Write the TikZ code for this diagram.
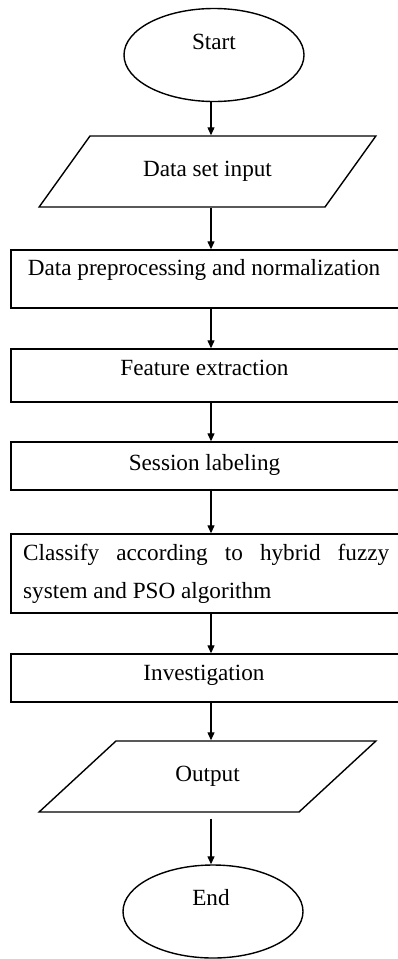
\documentclass[tikz,border=0pt]{standalone}
\usepackage{fontspec}
\setmainfont{Liberation Serif}
\usetikzlibrary{shapes.geometric,arrows.meta}
\begin{document}
\begin{tikzpicture}[x=1pt,y=-1pt,
  every node/.style={inner sep=0pt},
  shape line/.style={draw, line width=1.4pt},
  oval/.style={shape line, ellipse, minimum width=180pt, minimum height=93pt},
  stepbox/.style={shape line, rectangle, minimum width=391pt},
  iobox/.style={shape line, trapezium, trapezium left angle=40.2, trapezium right angle=139.8,
    trapezium stretches=true, minimum width=337pt, minimum height=71pt, inner sep=2pt,
    font=\fontsize{23.2}{38}\selectfont},
  lbl/.style={anchor=base, font=\fontsize{23.2}{38}\selectfont},
  flow/.style={line width=1.2pt, -{Triangle[width=7pt,length=8pt]}}
]
\useasboundingbox (0,0) rectangle (398,959);
\begin{scope}
\clip (0,0) rectangle (398,959);
\node[oval] (start) at (214,55) {};
\node[iobox] (dsi) at (207.5,171.5) {Data set input};
\node[stepbox, minimum height=58pt] (pre) at (206.5,279) {};
\node[stepbox, minimum height=53pt] (fe) at (206.5,375.5) {};
\node[stepbox, minimum height=48pt] (sl) at (206.5,466) {};
\node[stepbox, minimum height=79pt] (cls) at (206.5,573.5) {};
\node[stepbox, minimum height=48pt] (inv) at (206.5,678) {};
\node[iobox] (out) at (207.5,776.5) {Output};
\node[oval] (end) at (213,911.5) {};
\end{scope}

\node[lbl] (tstart) at (214,49) {Start};
\node[lbl] (tpre) at (204,275) {Data preprocessing and normalization};
\node[lbl] (tfe) at (204.5,375) {Feature extraction};
\node[lbl] (tsl) at (204.5,470) {Session labeling};
\node[lbl, anchor=base west, text width=366pt, align=justify] (tcls) at (23,560)
  {\hyphenpenalty=10000 Classify according to hybrid fuzzy\linebreak system and PSO algorithm};
\node[lbl] (tinv) at (204,680) {Investigation};
\node[lbl] (tend) at (211,905) {End};

\coordinate (ax) at (211,0);
\draw[flow] (start.south -| ax) -- (dsi.north -| ax);
\draw[flow] (dsi.south -| ax) -- (pre.north -| ax);
\draw[flow] (pre.south -| ax) -- (fe.north -| ax);
\draw[flow] (fe.south -| ax) -- (sl.north -| ax);
\draw[flow] (sl.south -| ax) -- (cls.north -| ax);
\draw[flow] (cls.south -| ax) -- (inv.north -| ax);
\draw[flow] (inv.south -| ax) -- (out.north -| ax);
\draw[flow] ([yshift=-6pt]out.south -| ax) -- (end.north -| ax);
\end{tikzpicture}
\end{document}
